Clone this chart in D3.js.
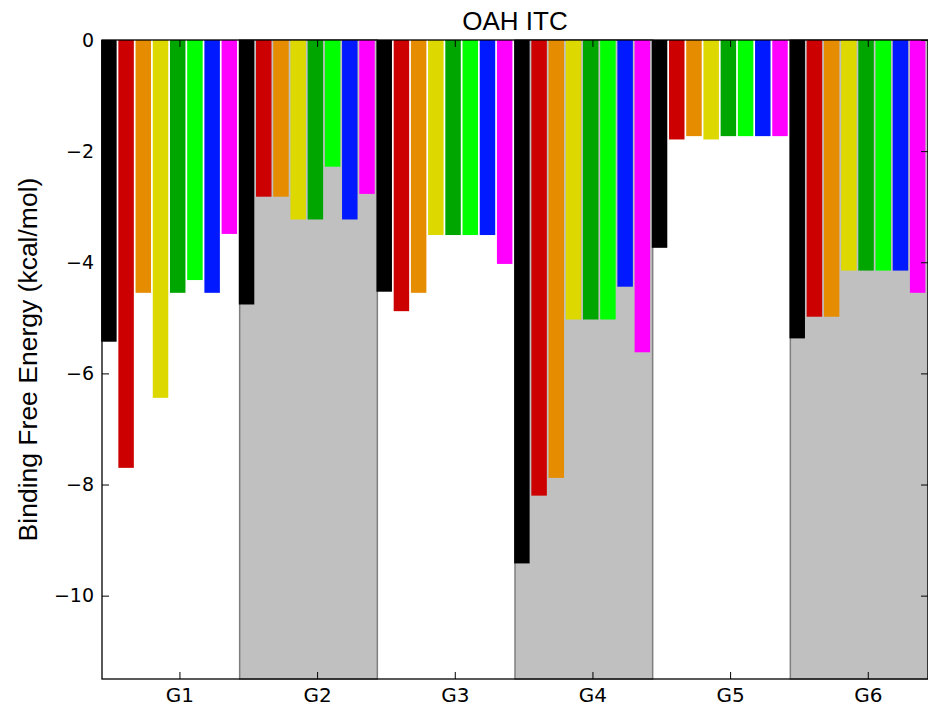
<!DOCTYPE html>
<html>
<head>
<meta charset="utf-8">
<script src="https://cdn.jsdelivr.net/npm/d3@7"></script>
<style>
  body { margin: 0; background: #fff; }
  svg { display: block; }
  .tick text { font-family: "DejaVu Sans", sans-serif; }
</style>
</head>
<body>
<div id="graph"></div>
<script>
// groups on the x axis
const GROUPS = ['G1', 'G2', 'G3', 'G4', 'G5', 'G6'];

// one array per coloured series, one value per group (kcal/mol)
const seriesBlack   = [-5.43, -4.76, -4.53, -9.42, -3.74, -5.37];
const seriesRed     = [-7.70, -2.82, -4.88, -8.20, -1.79, -4.98];
const seriesOrange  = [-4.55, -2.82, -4.55, -7.88, -1.73, -4.98];
const seriesYellow  = [-6.44, -3.23, -3.51, -5.03, -1.79, -4.15];
const seriesDkGreen = [-4.55, -3.23, -3.51, -5.03, -1.73, -4.15];
const seriesGreen   = [-4.32, -2.28, -3.51, -5.03, -1.73, -4.15];
const seriesBlue    = [-4.55, -3.23, -3.51, -4.44, -1.73, -4.15];
const seriesMagenta = [-3.49, -2.77, -4.03, -5.62, -1.73, -4.55];

const Y_TICKS = [0, -2, -4, -6, -8, -10];

const SERIES = [
    {values: seriesBlack,   color: '#000000'},
    {values: seriesRed,     color: '#cc0000'},
    {values: seriesOrange,  color: '#e68c00'},
    {values: seriesYellow,  color: '#dcd800'},
    {values: seriesDkGreen, color: '#00a600'},
    {values: seriesGreen,   color: '#00ff00'},
    {values: seriesBlue,    color: '#0019ff'},
    {values: seriesMagenta, color: '#ff00ff'},
];

const WIDTH = 928, HEIGHT = 707;
const M = {left: 102, top: 40, right: 928, bottom: 679};
const NB = SERIES.length;
const TICK = 7;

const svg = d3.select('#graph')
  .append('svg')
    .attr('width', WIDTH)
    .attr('height', HEIGHT);

const x = d3.scaleLinear()
  .domain([0, GROUPS.length * NB])
  .range([M.left, M.right]);

const y = d3.scaleLinear()
  .domain([-11.5, 0])
  .range([M.bottom, M.top]);

// grey bands behind every second group
svg.append('g')
  .selectAll('rect')
  .data(GROUPS.map((g, i) => i).filter(i => i % 2 === 1))
  .join('rect')
    .attr('x', i => x(i * NB))
    .attr('y', y(0))
    .attr('width', i => x((i + 1) * NB) - x(i * NB))
    .attr('height', y(-11.5) - y(0))
    .attr('fill', '#c0c0c0')
    .attr('stroke', '#7f7f7f')
    .attr('stroke-width', 1.5);

// bars
const bars = [];
GROUPS.forEach((g, gi) => {
    SERIES.forEach((s, si) => {
        bars.push({pos: gi * NB + si, value: s.values[gi], color: s.color});
    });
});

svg.append('g')
  .selectAll('rect')
  .data(bars)
  .join('rect')
    .attr('x', d => x(d.pos - 0.05))
    .attr('y', y(0))
    .attr('width', x(0.9) - x(0))
    .attr('height', d => y(d.value) - y(0))
    .attr('fill', d => d.color);

// axes, matplotlib style with inward ticks
const fmt = d => d === 0 ? '0' : '\u2212' + Math.abs(d);

svg.append('g')
    .attr('transform', `translate(${M.left},0)`)
    .call(d3.axisLeft(y).tickValues(Y_TICKS).tickFormat(fmt).tickSize(-TICK).tickPadding(8))
    .call(g => g.select('.domain').remove())
    .call(g => g.selectAll('text').attr('font-size', 19).attr('fill', '#000'));

svg.append('g')
    .attr('transform', `translate(${M.right},0)`)
    .call(d3.axisRight(y).tickValues(Y_TICKS).tickFormat('').tickSize(-TICK))
    .call(g => g.select('.domain').remove());

const xTicks = GROUPS.map((g, i) => i * NB + 4.5);

svg.append('g')
    .attr('transform', `translate(0,${M.bottom})`)
    .call(d3.axisBottom(x).tickValues(xTicks)
      .tickFormat((d, i) => GROUPS[i]).tickSize(-TICK).tickPadding(9))
    .call(g => g.select('.domain').remove())
    .call(g => g.selectAll('text').attr('font-size', 20).attr('fill', '#000'));

svg.append('g')
    .attr('transform', `translate(0,${M.top})`)
    .call(d3.axisTop(x).tickValues(xTicks).tickFormat('').tickSize(-TICK))
    .call(g => g.select('.domain').remove());

svg.selectAll('.tick line').attr('stroke', '#000').attr('stroke-width', 1);

// frame
svg.append('rect')
    .attr('x', M.left)
    .attr('y', M.top)
    .attr('width', M.right - M.left)
    .attr('height', M.bottom - M.top)
    .attr('fill', 'none')
    .attr('stroke', '#000')
    .attr('stroke-width', 1.3);

svg.append('text')
    .attr('x', (M.left + M.right) / 2)
    .attr('y', 30)
    .attr('text-anchor', 'middle')
    .attr('font-family', 'Liberation Sans, Arial, sans-serif')
    .attr('font-size', 26)
    .text('OAH ITC');

svg.append('text')
    .attr('transform', `translate(37,${(M.top + M.bottom) / 2}) rotate(-90)`)
    .attr('text-anchor', 'middle')
    .attr('font-family', 'Liberation Sans, Arial, sans-serif')
    .attr('font-size', 26.5)
    .text('Binding Free Energy (kcal/mol)');
</script>
</body>
</html>
